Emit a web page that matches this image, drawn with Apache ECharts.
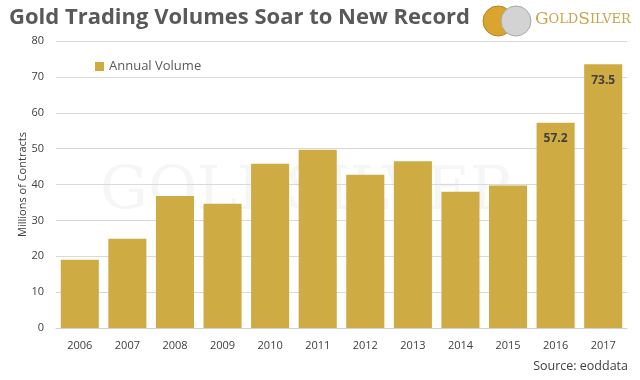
<!DOCTYPE html>
<html><head><meta charset="utf-8">
<script src="https://cdn.jsdelivr.net/npm/echarts@6/dist/echarts.min.js"></script>
<style>html,body{margin:0;padding:0;background:#fff}#c{width:640px;height:380px}</style>
</head><body><div id="c"></div>
<script>
const years = ['2006','2007','2008','2009','2010','2011','2012','2013','2014','2015','2016','2017'];
const volumes = [19.0, 24.9, 36.8, 34.6, 45.8, 49.7, 42.7, 46.5, 38.0, 39.7, 57.2, 73.5];
const labeledYears = ['2016','2017'];
const yTicks = [0, 10, 20, 30, 40, 50, 60, 70, 80];

const chart = echarts.init(document.getElementById('c'));
chart.setOption({
  animation: false,
  backgroundColor: '#fff',
  title: {
    text: 'Gold Trading Volumes Soar to New Record',
    left: 4, top: 2,
    textStyle: {fontFamily: 'Open Sans', fontWeight: 'bold', fontSize: 22, color: '#595959'}
  },
  graphic: [
    {type: 'text', left: 100, top: 163, z: 0, silent: true,
     style: {text: 'GOLDSILVER', fontFamily: 'DejaVu Serif', fontSize: 60, fill: '#f6f6f6'}},
    {type: 'circle', shape: {cx: 498, cy: 21, r: 15}, style: {fill: '#d9a52e', stroke: '#b3861f', lineWidth: 1}},
    {type: 'circle', shape: {cx: 516, cy: 21, r: 15}, style: {fill: '#d3d3d3', stroke: '#a8a8a8', lineWidth: 1}},
    {type: 'text', left: 535, top: 11,
     style: {rich: {a: {fontFamily: 'DejaVu Serif', fontSize: 17, fill: '#c9a64c'}, b: {fontFamily: 'DejaVu Serif', fontSize: 13, fill: '#c9a64c'}},
             text: '{a|G}{b|OLD}{a|S}{b|ILVER}'}},
    {type: 'text', right: 12, top: 360,
     style: {text: 'Source: eoddata', fontFamily: 'Open Sans', fontSize: 12.5, fill: '#404040'}}
  ],
  legend: {
    left: 90, top: 55, itemWidth: 9, itemHeight: 9, icon: 'rect',
    textStyle: {fontFamily: 'Open Sans', fontSize: 13, color: '#595959'},
    data: ['Annual Volume']
  },
  grid: {left: 56, right: 13, top: 41, bottom: 52},
  xAxis: {
    type: 'category', data: years,
    axisLine: {lineStyle: {color: '#d0d0d0'}},
    axisTick: {show: false},
    axisLabel: {fontFamily: 'Open Sans', fontSize: 11, color: '#404040', margin: 12}
  },
  yAxis: {
    type: 'value', min: yTicks[0], max: yTicks[yTicks.length-1], interval: 10,
    name: 'Millions of Contracts', nameLocation: 'middle', nameGap: 28, nameRotate: 90,
    nameMoveOverlap: false,
    nameTextStyle: {fontFamily: 'Open Sans', fontSize: 11, color: '#404040'},
    axisLine: {show: false}, axisTick: {show: false},
    axisLabel: {fontFamily: 'Open Sans', fontSize: 11, color: '#404040', margin: 12},
    splitLine: {lineStyle: {color: '#d9d9d9'}}
  },
  series: [{
    name: 'Annual Volume', type: 'bar', barCategoryGap: '20%',
    itemStyle: {color: '#cfab43'},
    data: volumes.map((v, i) => ({
      value: v,
      label: {show: labeledYears.includes(years[i]), position: 'insideTop', distance: 10,
              fontFamily: 'Open Sans', fontWeight: 'bold', fontSize: 12, color: '#404040'}
    }))
  }]
});
</script></body></html>
